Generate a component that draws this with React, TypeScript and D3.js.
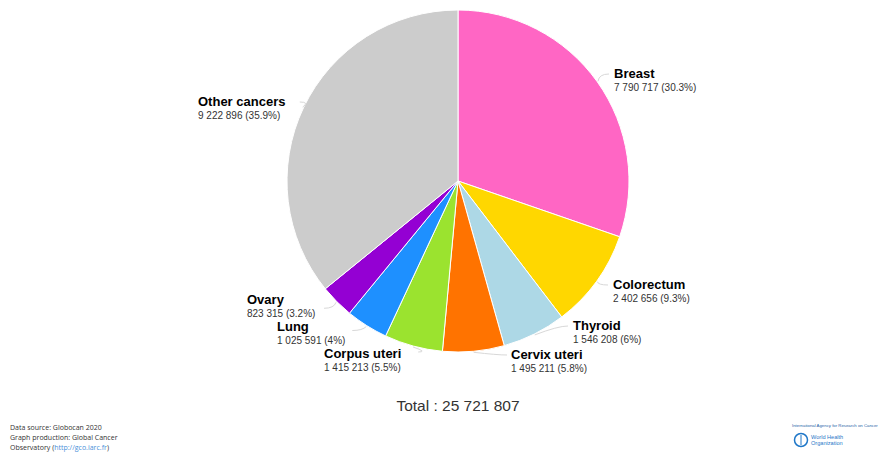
import React from "react";
import * as d3 from "d3";

const categories = ["Breast", "Colorectum", "Thyroid", "Cervix uteri", "Corpus uteri", "Lung", "Ovary", "Other cancers"];
const values = [7790717, 2402656, 1546208, 1495211, 1415213, 1025591, 823315, 9222896];
const percents = ["30.3%", "9.3%", "6%", "5.8%", "5.5%", "4%", "3.2%", "35.9%"];
const colors = ["#ff66c4", "#ffd700", "#add8e6", "#ff7300", "#9be32f", "#1e90ff", "#9400d3", "#cccccc"];
const totalLabel = "Total : 25 721 807";
// label anchor positions (name baseline)
const labelPos: [number, number][] = [
  [614, 78], [613, 289], [573, 330], [511, 359], [324, 358], [277, 331], [247, 304], [198, 106],
];

const fmt = (v: number) => d3.format(",")(v).replace(/,/g, " ");

export default function App() {
  const W = 894, H = 452;
  const cx = 458, cy = 181, r = 171;
  const data = categories.map((c, i) => ({ name: c, value: values[i], pct: percents[i], color: colors[i], pos: labelPos[i] }));
  const pie = d3.pie<any>().value(d => d.value).sort(null);
  const arcs = pie(data);
  const arc = d3.arc<any>().innerRadius(0).outerRadius(r);
  const font = "'Liberation Sans', Arial, sans-serif";

  return (
    <svg width={W} height={H} style={{ position: "absolute", left: 0, top: 0, background: "#fff" }}>
      <g transform={`translate(${cx},${cy})`}>
        {arcs.map((a, i) => (
          <path key={i} d={arc(a) as string} fill={a.data.color} stroke="#fff" strokeWidth={1} />
        ))}
      </g>
      {arcs.map((a, i) => {
        const mid = (a.startAngle + a.endAngle) / 2;
        const px = cx + (r + 1) * Math.sin(mid);
        const py = cy - (r + 1) * Math.cos(mid);
        const [lx, ly] = a.data.pos;
        const right = Math.sin(mid) > 0.05;
        const nameW = a.data.name.length * 7.6;
        let ex: number, ey: number;
        if (i === 0 || i === 1 || i === 2) { ex = lx - 5; ey = ly - 4; }
        else if (i === 7) { ex = lx + nameW + 3; ey = ly - 4; }
        else if (i === 3) { ex = lx - 4; ey = ly - 4; }
        else if (i === 5) { ex = px - 14; ey = py + 4; }
        else if (i === 6) { ex = px - 12; ey = py + 6; }
        else { ex = lx + nameW + 3; ey = ly - 6; }
        const bx = right ? ex - 10 : ex + 10;
        const d = `M${px},${py} Q${bx},${ey} ${ex},${ey}`;
        return <path key={"c" + i} d={d} fill="none" stroke="#d8d8d8" strokeWidth={1} />;
      })}
      {data.map((d, i) => (
        <g key={"l" + i} fontFamily={font}>
          <text x={d.pos[0]} y={d.pos[1]} fontSize={13} fontWeight="bold" fill="#000">{d.name}</text>
          <text x={d.pos[0]} y={d.pos[1] + 13} fontSize={10} fill="#333">{`${fmt(d.value)} (${d.pct})`}</text>
        </g>
      ))}
      <text x={458} y={411} textAnchor="middle" fontFamily={font} fontSize={15.5} fill="#333">{totalLabel}</text>
      <g fontFamily="'Open Sans', sans-serif" fontSize={7} fill="#333">
        <text x={10} y={430}>Data source: Globocan 2020</text>
        <text x={10} y={440}>Graph production: Global Cancer</text>
        <text x={10} y={450}>Observatory (<tspan fill="#4a90d9">http://gco.iarc.fr</tspan>)</text>
      </g>
      <g fontFamily="'Liberation Sans', Arial, sans-serif" fill="#1f5fa8">
        <text x={792} y={427} fontSize={4.3}>International Agency for Research on Cancer</text>
        <circle cx={801} cy={440} r={6.5} fill="none" stroke="#1f77c8" strokeWidth={1.5} />
        <line x1={801} y1={435} x2={801} y2={445} stroke="#1f77c8" strokeWidth={1} />
        <text x={811} y={439} fontSize={5.6} fill="#1f77c8">World Health</text>
        <text x={811} y={445} fontSize={5.6} fill="#1f77c8">Organization</text>
      </g>
    </svg>
  );
}
